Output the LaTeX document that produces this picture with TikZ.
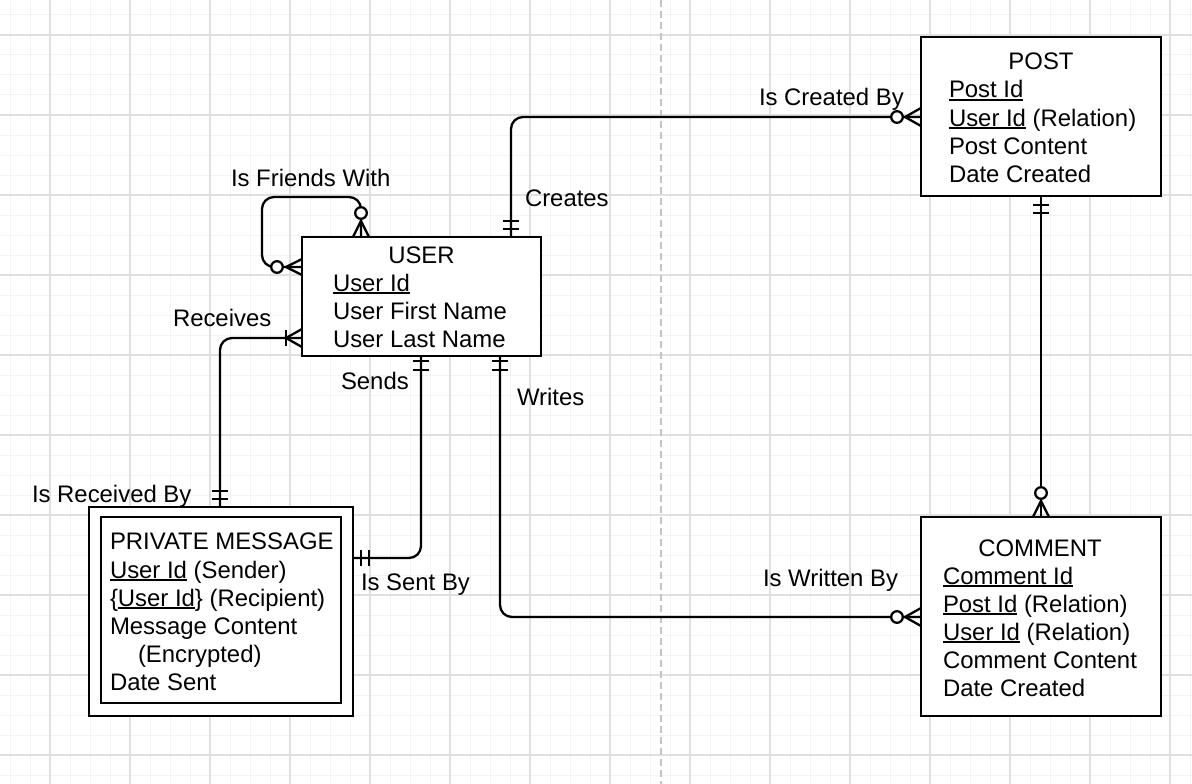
\documentclass[tikz,border=0pt]{standalone}
\usepackage{fontspec}
\setmainfont{Liberation Sans}
\usetikzlibrary{calc}
\newcommand{\erul}[1]{\setbox0\hbox{#1}\rlap{\rule[-3.2pt]{\wd0}{1.8pt}}#1}
\definecolor{gridminor}{HTML}{F3F3F3}
\definecolor{gridmajor}{HTML}{E0E0E0}
\definecolor{dashgray}{HTML}{C4C4C4}
\begin{document}
\begin{tikzpicture}[x=1pt,y=-1pt,
  ent/.style={draw, line width=2.5pt, fill=white, rectangle, inner sep=0pt, outer sep=0pt},
  conn/.style={line width=2.3pt, rounded corners=12pt},
  mk/.style={line width=2.3pt},
  ring/.style={line width=2.3pt, fill=white},
  lbl/.style={anchor=base west, inner sep=0pt, outer sep=0pt, font=\fontsize{23.9}{28}\selectfont},
  ttl/.style={lbl, anchor=base}]
\useasboundingbox (0,0) rectangle (1192,784);
\fill[white] (0,0) rectangle (1192,784);
% grid
\foreach \x in {10,30,...,1190} \draw[gridminor, line width=1pt] (\x,0) -- (\x,784);
\foreach \y in {15,35,...,775} \draw[gridminor, line width=1pt] (0,\y) -- (1192,\y);
\foreach \x in {50,130,...,1170} \draw[gridmajor, line width=1.2pt] (\x,0) -- (\x,784);
\foreach \y in {35,115,...,755} \draw[gridmajor, line width=1.2pt] (0,\y) -- (1192,\y);
\draw[dashgray, line width=2pt, dash pattern=on 7pt off 4pt] (661,0) -- (661,784);

% entities (shapes)
\node[ent, minimum width=239pt, minimum height=119pt] (user) at (421.5,296.5) {};
\node[ent, minimum width=240pt, minimum height=159pt] (post) at (1041,116.5) {};
\node[ent, minimum width=240pt, minimum height=199pt] (comment) at (1041,616.5) {};
\node[ent, minimum width=264pt, minimum height=209pt] (pmo) at (221,611.5) {};
\node[ent, minimum width=240pt, minimum height=186pt] (pm) at (221,610) {};

% connectors
\draw[conn] ([xshift=59pt]user.north west) -- (361,197) -- (262,197) -- (262,267) -- ([yshift=-30pt]user.north west);
\draw[conn] ([xshift=131pt]pmo.north west) |- ([yshift=-101pt]user.north west);
\draw[conn] ([xshift=119pt]user.south west) |- ([yshift=-51pt]pmo.north east);
\draw[conn] ([xshift=209pt]user.north west) |- ([yshift=-80pt]post.north west);
\draw[conn] ([xshift=120pt]post.south west) -- ([xshift=120pt]comment.north west);
\draw[conn] ([xshift=198pt]user.south west) |- ([yshift=-100pt]comment.north west);

% end markers
% self loop
\draw[mk] (353,237) -- (361,221) -- (369,237);
\draw[ring] (361,213) circle (5.8);
\draw[mk] (302,259) -- (286,267) -- (302,275);
\draw[ring] (277,267) circle (5.8);
% receives
\draw[mk] (212,491) -- (228,491);
\draw[mk] (212,499) -- (228,499);
\draw[mk] (286,330) -- (286,346);
\draw[mk] (302,329) -- (286,338) -- (302,347);
% sends
\draw[mk] (413,361) -- (429,361);
\draw[mk] (413,370) -- (429,370);
\draw[mk] (361,550) -- (361,566);
\draw[mk] (369,550) -- (369,566);
% creates
\draw[mk] (503,221) -- (519,221);
\draw[mk] (503,229) -- (519,229);
\draw[mk] (921,108) -- (905,117) -- (921,126);
\draw[ring] (897,117) circle (5.8);
% post - comment
\draw[mk] (1033,205) -- (1049,205);
\draw[mk] (1033,213) -- (1049,213);
\draw[mk] (1033,517) -- (1041,501) -- (1049,517);
\draw[ring] (1041,493) circle (5.8);
% writes
\draw[mk] (492,361) -- (508,361);
\draw[mk] (492,370) -- (508,370);
\draw[mk] (921,608) -- (905,617) -- (921,626);
\draw[ring] (897,617) circle (5.8);

% redraw entity borders on top
\draw[line width=2.5pt] (user.north west) rectangle (user.south east);
\draw[line width=2.5pt] (post.north west) rectangle (post.south east);
\draw[line width=2.5pt] (comment.north west) rectangle (comment.south east);
\draw[line width=2.5pt] (pmo.north west) rectangle (pmo.south east);

% entity texts
\node[ttl] (userT) at (421.5,263) {USER};
\node[lbl] (userA1) at (333,291) {\erul{User Id}};
\node[lbl] (userA2) at (333,319) {User First Name};
\node[lbl] (userA3) at (333,347) {User Last Name};

\node[ttl] (postT) at (1041,70) {POST};
\node[lbl] (postA1) at (949,98) {\erul{Post Id}};
\node[lbl] (postA2) at (949,126) {\erul{User Id} (Relation)};
\node[lbl] (postA3) at (949,154) {Post Content};
\node[lbl] (postA4) at (949,182) {Date Created};

\node[ttl] (commentT) at (1040,556) {COMMENT};
\node[lbl] (commentA1) at (943,584) {\erul{Comment Id}};
\node[lbl] (commentA2) at (943,612) {\erul{Post Id} (Relation)};
\node[lbl] (commentA3) at (943,640) {\erul{User Id} (Relation)};
\node[lbl] (commentA4) at (943,668) {Comment Content};
\node[lbl] (commentA5) at (943,696) {Date Created};

\node[lbl] (pmT) at (110,549) {PRIVATE MESSAGE};
\node[lbl] (pmA1) at (110,578) {\erul{User Id} (Sender)};
\node[lbl] (pmA2) at (110,606) {\{\erul{User Id}\} (Recipient)};
\node[lbl] (pmA3) at (110,634) {Message Content};
\node[lbl] (pmA4) at (138,662) {(Encrypted)};
\node[lbl] (pmA5) at (110,690) {Date Sent};

% relation labels
\node[lbl] (lFriends) at (231,186) {Is Friends With};
\node[lbl] (lCreates) at (525,206) {Creates};
\node[lbl] (lReceives) at (173,326) {Receives};
\node[lbl] (lSends) at (341,389) {Sends};
\node[lbl] (lWrites) at (517,405) {Writes};
\node[lbl] (lRecBy) at (32,502) {Is Received By};
\node[lbl] (lSentBy) at (361,590) {Is Sent By};
\node[lbl] (lCreatedBy) at (759,106) {Is Created By};
\node[lbl] (lWrittenBy) at (763,586) {Is Written By};
\end{tikzpicture}
\end{document}
